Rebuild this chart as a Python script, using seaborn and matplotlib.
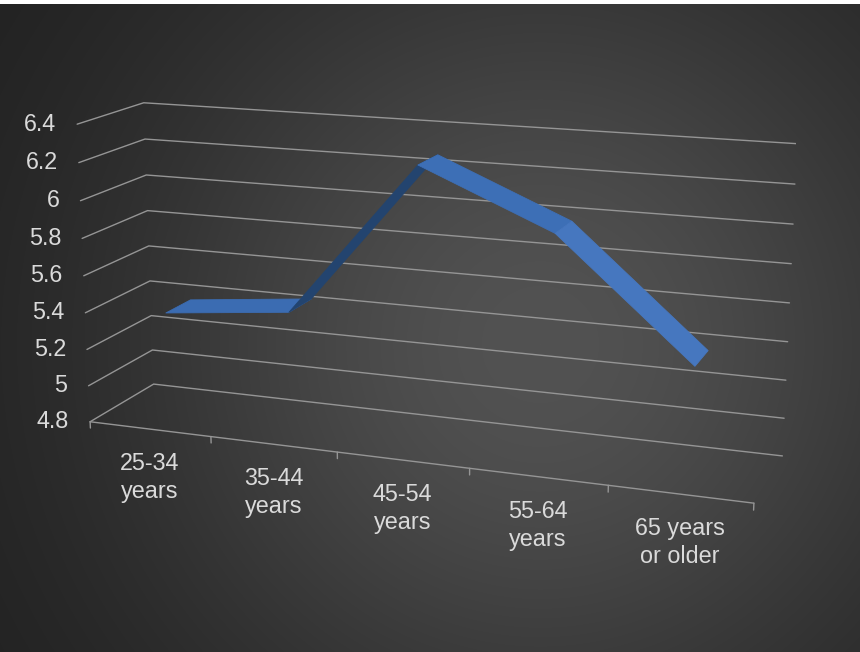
import numpy as np
import matplotlib
matplotlib.use("Agg")
import matplotlib.pyplot as plt
import matplotlib.transforms as mtransforms
from mpl_toolkits.mplot3d.art3d import Poly3DCollection
from mpl_toolkits.mplot3d import proj3d
import seaborn as sns

# ---- data ----
categories = ["25-34\nyears", "35-44\nyears", "45-54\nyears", "55-64\nyears", "65 years\nor older"]
values = [5.38, 5.45, 6.27, 5.98, 5.38]
z_ticks = [4.8, 5.0, 5.2, 5.4, 5.6, 5.8, 6.0, 6.2, 6.4]
z_labels = ["4.8", "5", "5.2", "5.4", "5.6", "5.8", "6", "6.2", "6.4"]

# ---- style ----
sns.set_theme(style="white")
plt.rcParams["font.family"] = ["Liberation Sans", "DejaVu Sans"]
GRID = "#959595"
TEXT = "#dadada"
seg_colors = ["#3b6cb2", "#23446f", "#3d6fb6", "#4677bf"]

W, H = 860, 652
fig = plt.figure(figsize=(W / 100, H / 100), dpi=100, facecolor="white")

# background radial gradient
bg = fig.add_axes([0, 0, 1, (H - 4) / H])
yy, xx = np.mgrid[0:H - 4, 0:W]
r = np.hypot(xx - 540, yy - 340)
c = (30 + 52 * np.exp(-(r / 420) ** 2)) / 255
bg.imshow(np.dstack([c, c, c]), aspect="auto", interpolation="bilinear")
bg.set_axis_off()

# 3D axes
S = 757
cx, cy = 427.5, 289
left = cx - 0.5135 * S
bottom = (H - cy) - 0.5135 * S
ax = fig.add_axes([left / W, bottom / H, S / W, S / H], projection="3d",
                  computed_zorder=False)
ax.set_facecolor((0, 0, 0, 0))
ax.set_proj_type("persp", focal_length=0.497)
ax.view_init(elev=14.5, azim=-69.8)
ax.set_box_aspect((1, 0.203, 0.45))
n = len(categories)
ax.set_xlim(0, n)
ax.set_ylim(0, 1)
ax.set_zlim(z_ticks[0], z_ticks[-1])
ax.set_xticks([])
ax.set_yticks([])
ax.set_zticks([])
ax.set_axis_off()
for a in (ax.xaxis, ax.yaxis, ax.zaxis):
    a.label.set_visible(False)
    a.offsetText.set_visible(False)

# walls: gridlines on side wall (x=0) and back wall (y=1)
for t in z_ticks:
    ax.plot([0, 0, n], [0, 1, 1], [t, t, t], color=GRID, lw=1.0, zorder=1)

# floor front edge + ticks
z0 = z_ticks[0]
ax.plot([0, n], [0, 0], [z0, z0], color=GRID, lw=1.0, zorder=1)
for i in range(n + 1):
    ax.plot([i, i], [0, 0], [z0, z0 - 0.035], color=GRID, lw=1.0, zorder=1)

# ribbon
xs = np.arange(n) + 0.5
y0, y1 = 0.3, 0.7
for i in range(n - 1):
    quad = [(xs[i], y0, values[i]), (xs[i + 1], y0, values[i + 1]),
            (xs[i + 1], y1, values[i + 1]), (xs[i], y1, values[i])]
    pc = Poly3DCollection([quad], facecolors=seg_colors[i], edgecolors=seg_colors[i],
                          linewidths=0.6, zorder=3)
    ax.add_collection3d(pc)

# labels: project anchor points with the axes' own 3D projection, draw as 2D text
M = ax.get_proj()
off_z = mtransforms.offset_copy(ax.transData, fig=fig, x=-21, y=0, units="dots")
zx, zy, _ = proj3d.proj_transform(np.zeros(len(z_ticks)), np.zeros(len(z_ticks)),
                                  np.array(z_ticks), M)
for px, py, lab in zip(zx, zy, z_labels):
    ax.text2D(px, py, lab, transform=off_z, ha="right", va="center",
              color=TEXT, fontsize=16.8, zorder=5)

off_x = mtransforms.offset_copy(ax.transData, fig=fig, x=0, y=-23, units="dots")
cxp, cyp, _ = proj3d.proj_transform(xs, np.zeros(n), np.full(n, z0), M)
for px, py, lab in zip(cxp, cyp, categories):
    ax.text2D(px, py, lab, transform=off_x, ha="center", va="top",
              color=TEXT, fontsize=16.8, linespacing=1.27, multialignment="center",
              zorder=5)

fig.savefig("out.png", dpi=100, facecolor=fig.get_facecolor())
